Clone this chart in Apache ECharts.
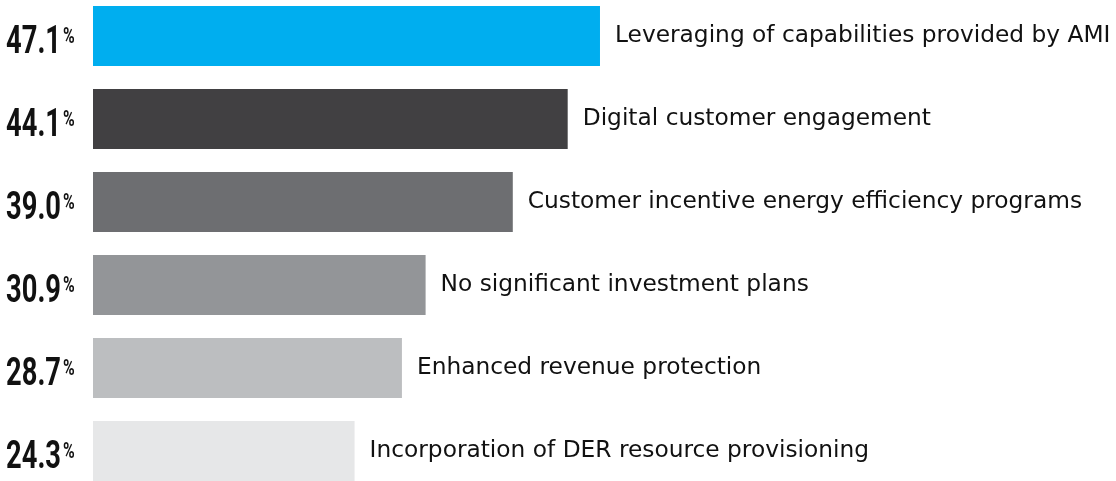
<!DOCTYPE html>
<html>
<head>
<meta charset="utf-8">
<script src="https://cdn.jsdelivr.net/npm/echarts@6/dist/echarts.min.js"></script>
<style>html,body{margin:0;padding:0;background:#fff;}#c{width:1116px;height:481px;}</style>
</head>
<body>
<div id="c"></div>
<script>
var categories = [
  "Leveraging of capabilities provided by AMI",
  "Digital customer engagement",
  "Customer incentive energy efficiency programs",
  "No significant investment plans",
  "Enhanced revenue protection",
  "Incorporation of DER resource provisioning"
];
var values = [47.1, 44.1, 39.0, 30.9, 28.7, 24.3];
var barColors = ["#00AEEF", "#414042", "#6D6E71", "#939598", "#BCBEC0", "#E6E7E8"];

var chart = echarts.init(document.getElementById('c'));
chart.setOption({
  animation: false,
  grid: { left: 93, top: -5.5, width: 538.2, height: 498, containLabel: false, outerBoundsMode: 'none' },
  xAxis: { type: 'value', min: 0, max: 50, show: false },
  yAxis: {
    type: 'category', data: categories, inverse: true, show: false
  },
  series: [{
    type: 'bar',
    barWidth: 60,
    data: values.map(function (v, i) { return { value: v, itemStyle: { color: barColors[i] } }; }),
    label: {
      show: true, position: 'right', distance: 15,
      formatter: function (p) { return categories[p.dataIndex]; },
      fontFamily: 'DejaVu Sans', fontSize: 23.3, color: '#111'
    }
  }]
});

// value labels on the left, positioned through the axis scales
var x0 = chart.convertToPixel({ xAxisIndex: 0 }, 0);
var elems = [];
categories.forEach(function (c, i) {
  var y = chart.convertToPixel({ yAxisIndex: 0 }, c);
  elems.push({
    type: 'text', x: x0 - 32, y: y + 7.5, scaleX: 0.7, silent: true,
    style: { text: values[i].toFixed(1), font: 'bold 39px Roboto', fill: '#111', textAlign: 'right', textVerticalAlign: 'middle' }
  });
  elems.push({
    type: 'text', x: x0 - 30, y: y - 10, scaleX: 0.72, silent: true,
    style: { text: '%', font: 'bold 22px Roboto', fill: '#111', textAlign: 'left', textVerticalAlign: 'top' }
  });
});
chart.setOption({ graphic: { elements: elems } });
</script>
</body>
</html>
